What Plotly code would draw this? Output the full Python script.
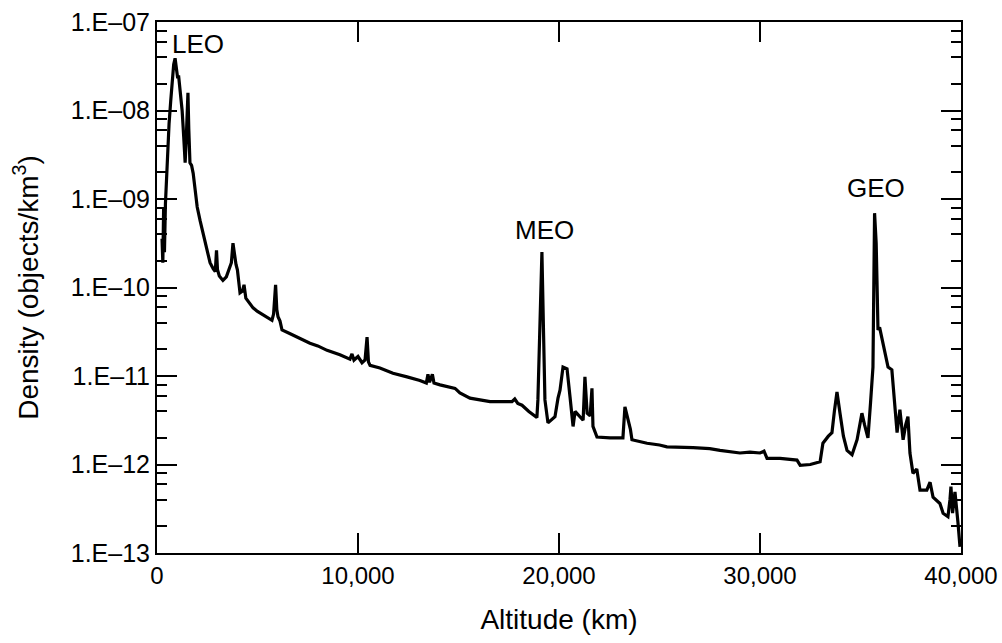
import numpy as np
import plotly.graph_objects as go

# Altitude (km)
altitude = [250, 290, 330, 370, 420, 500, 600, 680, 760, 830, 900, 960, 1020, 1080, 1150, 1250, 1330, 1400, 1450, 1500,
            1540, 1580, 1640, 1720, 1800, 1900, 2000, 2150, 2290, 2450, 2640, 2800, 2900, 2960, 3010, 3100, 3280, 3450,
            3580, 3700, 3780, 3850, 3930, 4000, 4130, 4250, 4330, 4420, 4480, 4600, 4780, 5000, 5270, 5500, 5720, 5800,
            5900, 5960, 6020, 6120, 6220, 6600, 6970, 7610, 8000, 8460, 9100, 9600, 9700, 9800, 10000, 10200, 10350,
            10450, 10520, 10600, 11090, 11740, 12440, 13080, 13400, 13480, 13560, 13700, 13780, 14080, 14830, 15070,
            15570, 16570, 17660, 17800, 17950, 18160, 18500, 18900, 18950, 19050, 19150, 19230, 19300, 19450, 19600,
            19800, 19950, 20050, 20200, 20400, 20550, 20700, 20800, 21000, 21200, 21290, 21400, 21550, 21640, 21690,
            21890, 22540, 23180, 23280, 23400, 23550, 23630, 24380, 25000, 25370, 26670, 27500, 28010, 29000, 29500,
            30000, 30200, 30350, 31000, 31500, 31840, 32000, 32500, 32990, 33130, 33400, 33580, 33700, 33830, 33980,
            34150, 34330, 34580, 34830, 35070, 35200, 35370, 35500, 35570, 35620, 35700, 35780, 35820, 35870, 35950,
            36070, 36220, 36370, 36560, 36720, 36820, 36960, 37050, 37120, 37250, 37360, 37460, 37610, 37800, 37960,
            38300, 38460, 38610, 38950, 39110, 39350, 39450, 39500, 39580, 39700, 39850, 39950]

# log10 of density (objects/km^3)
log_density = [-9.45, -9.72, -9.10, -9.60, -9.05, -8.60, -8.15, -7.90, -7.70, -7.48, -7.41, -7.55, -7.62, -7.62, -7.78,
               -8.00, -8.30, -8.59, -8.35, -7.85, -7.80, -8.20, -8.59, -8.62, -8.71, -8.90, -9.09, -9.25, -9.39, -9.55,
               -9.72, -9.79, -9.82, -9.58, -9.80, -9.87, -9.92, -9.88, -9.80, -9.72, -9.50, -9.62, -9.74, -9.80, -10.06,
               -10.04, -9.97, -10.12, -10.14, -10.18, -10.23, -10.27, -10.31, -10.34, -10.37, -10.30, -9.97, -10.25,
               -10.33, -10.38, -10.48, -10.52, -10.56, -10.63, -10.66, -10.71, -10.76, -10.81, -10.75, -10.82, -10.78,
               -10.85, -10.82, -10.56, -10.84, -10.88, -10.91, -10.97, -11.01, -11.05, -11.08, -10.98, -11.07, -10.98,
               -11.08, -11.10, -11.14, -11.19, -11.25, -11.29, -11.29, -11.26, -11.31, -11.33, -11.40, -11.47, -11.27,
               -10.50, -9.60, -10.50, -11.27, -11.53, -11.50, -11.46, -11.25, -11.16, -10.90, -10.92, -11.24, -11.57,
               -11.40, -11.45, -11.50, -11.01, -11.42, -11.45, -11.14, -11.57, -11.69, -11.70, -11.70, -11.35, -11.45,
               -11.60, -11.72, -11.76, -11.78, -11.80, -11.81, -11.82, -11.84, -11.87, -11.86, -11.87, -11.85, -11.93,
               -11.93, -11.94, -11.95, -12.01, -12.00, -11.97, -11.76, -11.68, -11.64, -11.40, -11.18, -11.42, -11.68,
               -11.84, -11.89, -11.72, -11.42, -11.55, -11.70, -11.30, -11.05, -10.90, -9.16, -9.50, -9.92, -10.48,
               -10.45, -10.59, -10.74, -10.90, -10.93, -11.35, -11.64, -11.38, -11.60, -11.72, -11.55, -11.46, -11.87,
               -12.10, -12.05, -12.29, -12.29, -12.20, -12.37, -12.44, -12.55, -12.59, -12.40, -12.25, -12.55, -12.31,
               -12.66, -12.93]

density = [10 ** v for v in log_density]

x_tick_vals = [0, 10000, 20000, 30000, 40000]
x_tick_text = ["0", "10,000", "20,000", "30,000", "40,000"]
y_tick_vals = [1e-13, 1e-12, 1e-11, 1e-10, 1e-9, 1e-8, 1e-7]
y_tick_text = ["1.E\u201313", "1.E\u201312", "1.E\u201311", "1.E\u201310", "1.E\u201309", "1.E\u201308", "1.E\u201307"]
y_minor_vals = [m * 10.0 ** e for e in range(-13, -7) for m in (2, 4, 6, 8)]

labels = ["LEO", "MEO", "GEO"]
label_alt = [2040, 19300, 35770]
label_logy = [-7.25, -9.35, -8.88]

FONT = "Liberation Sans, Arial, Helvetica, sans-serif"

fig = go.Figure()
fig.add_trace(go.Scatter(x=altitude, y=density, mode="lines",
                         line=dict(color="black", width=3.2), showlegend=False))

for t, xa, ya in zip(labels, label_alt, label_logy):
    fig.add_annotation(x=xa, y=ya, text=t, showarrow=False,
                       font=dict(family=FONT, size=26, color="black"))

fig.update_layout(
    width=1002, height=643,
    margin=dict(l=157, r=41, t=22, b=90),
    paper_bgcolor="white", plot_bgcolor="white",
    font=dict(family=FONT, color="black"),
    xaxis=dict(range=[0, 40000], tickmode="array", tickvals=x_tick_vals, ticktext=x_tick_text,
               ticks="inside", ticklen=20, tickwidth=1.5, tickcolor="black",
               showline=True, linecolor="black", linewidth=2, mirror="ticks",
               showgrid=False, zeroline=False, automargin=False,
               tickfont=dict(size=24, family=FONT),
               title=dict(text="Altitude (km)", font=dict(size=28, family=FONT), standoff=22)),
    yaxis=dict(type="log", range=[-13, -7], tickmode="array", tickvals=y_tick_vals, ticktext=y_tick_text,
               ticks="inside", ticklen=20, tickwidth=1.5, tickcolor="black",
               showline=True, linecolor="black", linewidth=2, mirror="ticks",
               showgrid=False, zeroline=False, automargin=False,
               tickfont=dict(size=25, family=FONT),
               minor=dict(tickmode="array", tickvals=y_minor_vals, ticks="inside", ticklen=10,
                          tickwidth=1.5, tickcolor="black", showgrid=False),
               title=dict(text="Density (objects/km<sup>3</sup>)", font=dict(size=28, family=FONT), standoff=24)),
)

fig.write_html("out.html")
